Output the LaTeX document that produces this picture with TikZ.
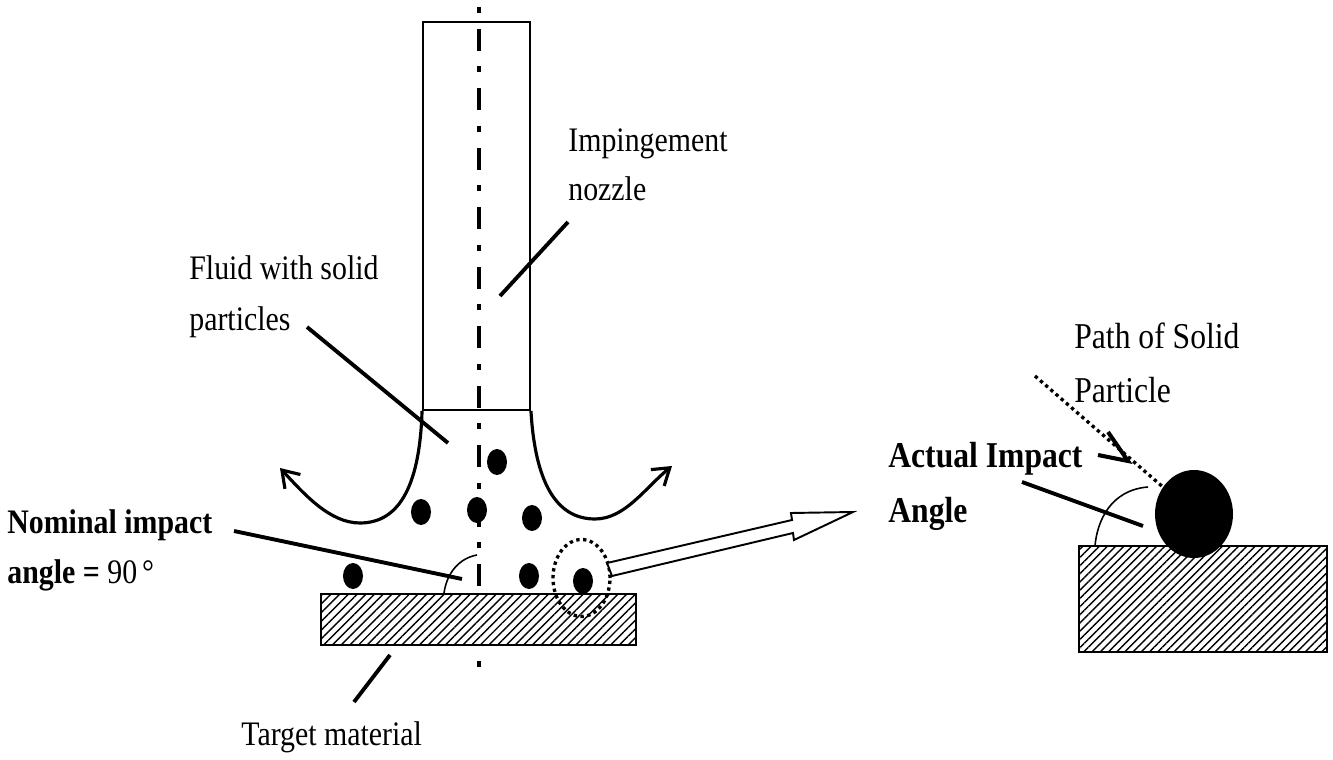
\documentclass[tikz,border=0pt]{standalone}
\usepackage{fontspec}
\setmainfont{Liberation Serif}
\usepackage{tikz}
\usetikzlibrary{arrows.meta,fit,patterns.meta,positioning,shapes.geometric}

\begin{document}
\begin{tikzpicture}
    [
      x=0.02cm,y=-0.02cm,
      particle/.style={ellipse,fill=black,inner sep=0pt,minimum width=0.4cm,minimum height=0.52cm},
      leader/.style={line width=2.2pt},
      outline/.style={draw,line width=1.1pt,inner sep=0pt},
      hatched/.style={outline,preaction={fill=white},pattern={Lines[angle=45,distance=#1,line width=0.8pt]}},
      flow/.style={line width=1.8pt,-{Straight Barb[length=9pt,width=12pt,line width=1.8pt]}},
      caption/.style={anchor=base west,inner sep=0pt,align=left,yscale=1.15,transform shape,font=\fontsize{17}{25.5}\selectfont},
      wide-caption/.style={caption,font=\fontsize{18}{27}\selectfont},
      angle-arc/.style={line width=0.9pt},
    ]
    \useasboundingbox (0,0) rectangle (1333,760);

    % axis of the jet
    \coordinate (axis-top) at (479,7);
    \coordinate (axis-bottom) at (479,668);
    \draw [line width=2.8pt,dash pattern=on 0.12cm off 0.32cm on 0.44cm off 0.31cm] (axis-top) -- (axis-bottom);

    % nozzle and target
    \coordinate (nozzle-a) at (423,22);
    \coordinate (nozzle-b) at (530,410);
    \node (nozzle) [outline,fit=(nozzle-a) (nozzle-b)] {};
    \coordinate (target-a) at (321,594);
    \coordinate (target-b) at (636,645);
    \node (target) [hatched=3.5pt,fit=(target-a) (target-b)] {};

    \draw [flow] (nozzle.south west) .. controls (420,480) and (402,523) .. (360,523) .. controls (330,523) and (305,495) .. (280,468);
    \draw [flow] (nozzle.south east) .. controls (535,480) and (555,519) .. (595,519) .. controls (625,519) and (645,488) .. (672,466);

    \node (p-1) [particle] at (497,462) {};
    \node (p-2) [particle] at (421,512) {};
    \node (p-3) [particle] at (477,510) {};
    \node (p-4) [particle] at (532,518) {};
    \node (p-5) [particle] at (353,576) {};
    \node (p-6) [particle] at (529,576) {};
    \node (p-7) [particle] at (583,581) {};

    \node (ring) [ellipse,draw,line width=1.9pt,dotted,inner sep=0pt,minimum width=1.14cm,minimum height=1.54cm] at (581.5,578) {};

    % open arrow to the close-up
    \draw [line width=1.1pt,fill=white] (607,563) -- (792,520) -- (791,513) -- (853,512) -- (794,540) -- (793,533) -- (612,576) -- cycle;

    \draw [angle-arc] (444,593) .. controls (447,572) and (460,558) .. (477,555);

    % close-up
    \coordinate (block-a) at (1079,546);
    \coordinate (block-b) at (1327,652);
    \node (block) [hatched=3.3pt,fit=(block-a) (block-b)] {};
    \node (big-particle) [ellipse,fill=black,inner sep=0pt,minimum width=1.56cm,minimum height=1.76cm] at (1194,514) {};
    \draw [angle-arc] (1095,546) .. controls (1097,522) and (1110,490) .. (1148,487);

    \coordinate (path-start) at (1035,376);
    \coordinate (path-tip) at (1128,461);
    \draw [line width=1.9pt,dotted] (path-start) -- (big-particle);
    \draw [line width=2.3pt] (1108,432) -- (path-tip) -- (1098,455);

    % labels
    \node (nozzle-label) [caption] at (568,152) {Impingement};
    \node (nozzle-label-2) [caption] at (568,201) {nozzle};
    \node (fluid-label) [caption] at (189,280) {Fluid with solid};
    \node (fluid-label-2) [caption] at (189,331) {particles};
    \node (nominal-label) [caption] at (7,533) {\textbf{Nominal impact}};
    \node (nominal-label-2) [caption] at (7,583) {\textbf{angle =} 90\,°};
    \node (target-label) [caption] at (241,745) {Target material};
    \node (path-label) [wide-caption] at (1074,349) {Path of Solid};
    \node (path-label-2) [wide-caption] at (1074,402) {Particle};
    \node (actual-label) [wide-caption] at (888,467) {\textbf{Actual Impact}};
    \node (actual-label-2) [wide-caption] at (888,522) {\textbf{Angle}};

    % leaders
    \coordinate (nozzle-end) at (568,222);
    \coordinate (nozzle-inside) at (500,296);
    \coordinate (fluid-end) at (307,327);
    \coordinate (fluid-inside) at (448,443);
    \coordinate (nominal-end) at (234,531);
    \coordinate (nominal-inside) at (462,579);
    \coordinate (target-end) at (354,702);
    \coordinate (target-top) at (390,655);
    \coordinate (actual-end) at (1022,482);
    \coordinate (actual-inside) at (1143,526);

    \path [leader]
    (nozzle-end) edge (nozzle-inside)
    (fluid-end) edge (fluid-inside)
    (nominal-end) edge (nominal-inside)
    (target-end) edge (target-top)
    (actual-end) edge (actual-inside)
    ;

  \end{tikzpicture}
\end{document}
